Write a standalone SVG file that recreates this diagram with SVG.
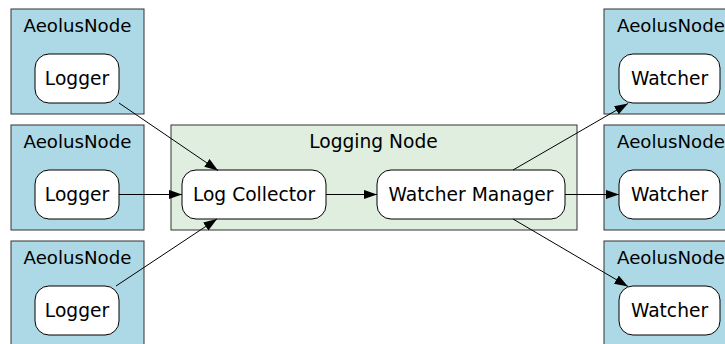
<svg xmlns="http://www.w3.org/2000/svg" width="725" height="344" viewBox="0 0 725 344">
  <style>
    .cluster { fill: #add8e6; stroke: #333333; stroke-width: 1; }
    .cluster-log { fill: #dfeedf; stroke: #333333; stroke-width: 1; }
    .node rect { fill: #ffffff; stroke: #000000; stroke-width: 1; }
    text { font-family: "DejaVu Sans", "Liberation Sans", sans-serif; font-size: 18.67px; fill: #000000; text-anchor: middle; }
    .cluster-label { font-size: 18.2px; }
    .edge { stroke: #000000; stroke-width: 1; fill: none; marker-end: url(#arrow); }
  </style>
  <defs>
    <marker id="arrow" markerUnits="userSpaceOnUse" markerWidth="15" markerHeight="11" refX="13.5" refY="4.75" orient="auto">
      <path d="M0,0 L13.5,4.75 L0,9.5 Z" fill="#000000"/>
    </marker>
  </defs>

  <rect width="725" height="344" fill="#ffffff"/>

  <!-- sender clusters -->
  <g id="aeolus-logger-1">
    <rect class="cluster" x="11" y="9" width="133" height="105"/>
    <text class="cluster-label" x="77.5" y="31.5">AeolusNode</text>
    <g class="node"><rect x="35" y="54" width="84" height="49" rx="14"/><text x="77" y="85">Logger</text></g>
  </g>
  <g id="aeolus-logger-2">
    <rect class="cluster" x="11" y="125" width="133" height="105"/>
    <text class="cluster-label" x="77.5" y="147.5">AeolusNode</text>
    <g class="node"><rect x="35" y="170" width="84" height="49" rx="14"/><text x="77" y="201">Logger</text></g>
  </g>
  <g id="aeolus-logger-3">
    <rect class="cluster" x="11" y="241" width="133" height="110"/>
    <text class="cluster-label" x="77.5" y="263.5">AeolusNode</text>
    <g class="node"><rect x="35" y="286" width="84" height="49" rx="14"/><text x="77" y="317">Logger</text></g>
  </g>

  <!-- central logging cluster -->
  <g id="logging-node">
    <rect class="cluster-log" x="171" y="125" width="406" height="105"/>
    <text x="373.5" y="147.5">Logging Node</text>
    <g class="node" id="log-collector"><rect x="182" y="170" width="144" height="49" rx="14"/><text x="254" y="201">Log Collector</text></g>
    <g class="node" id="watcher-manager"><rect x="377" y="170" width="188" height="49" rx="14"/><text x="471" y="201">Watcher Manager</text></g>
  </g>

  <!-- receiver clusters -->
  <g id="aeolus-watcher-1">
    <rect class="cluster" x="604" y="9" width="133" height="105"/>
    <text class="cluster-label" x="671" y="31.5">AeolusNode</text>
    <g class="node"><rect x="619" y="54" width="101" height="49" rx="14"/><text x="669.5" y="85">Watcher</text></g>
  </g>
  <g id="aeolus-watcher-2">
    <rect class="cluster" x="604" y="125" width="133" height="105"/>
    <text class="cluster-label" x="671" y="147.5">AeolusNode</text>
    <g class="node"><rect x="619" y="170" width="101" height="49" rx="14"/><text x="669.5" y="201">Watcher</text></g>
  </g>
  <g id="aeolus-watcher-3">
    <rect class="cluster" x="604" y="241" width="133" height="110"/>
    <text class="cluster-label" x="671" y="263.5">AeolusNode</text>
    <g class="node"><rect x="619" y="286" width="101" height="49" rx="14"/><text x="669.5" y="317">Watcher</text></g>
  </g>

  <!-- connectors -->
  <g id="edges">
    <path class="edge" d="M119,103 L218,170.5"/>
    <path class="edge" d="M119,194.5 L182,194.5"/>
    <path class="edge" d="M116,286 L217,219"/>
    <path class="edge" d="M326,194.5 L377,194.5"/>
    <path class="edge" d="M513,170 L628,103.5"/>
    <path class="edge" d="M565,194.5 L619,194.5"/>
    <path class="edge" d="M513,219 L628,286.5"/>
  </g>
</svg>
